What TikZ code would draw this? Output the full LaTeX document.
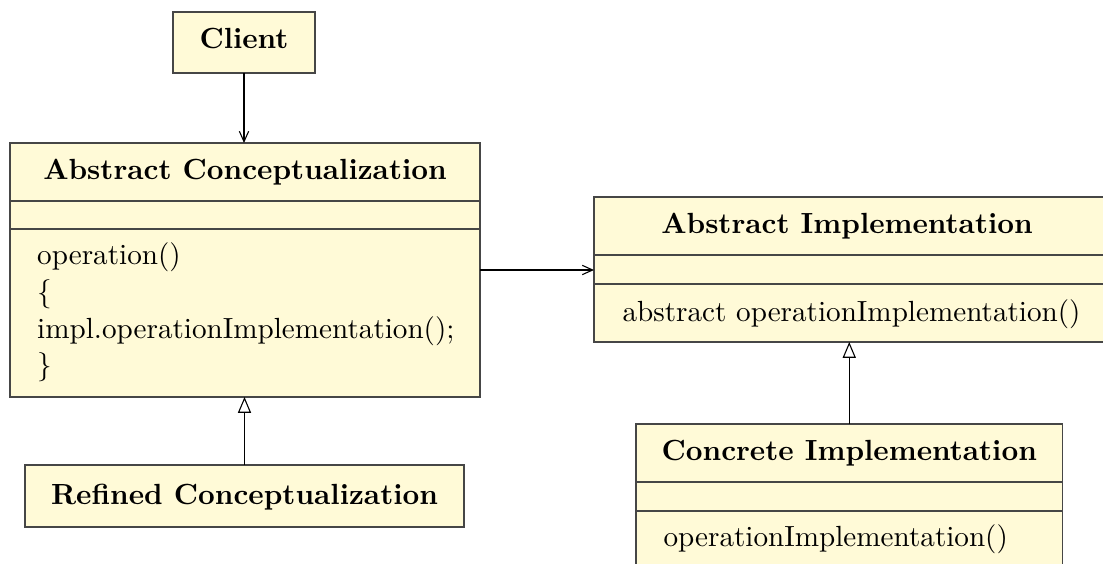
\documentclass[tikz,border=0pt]{standalone}
\usetikzlibrary{arrows.meta}
\definecolor{umlfill}{RGB}{255,250,215}
\definecolor{umlline}{RGB}{70,70,70}
\def\pxu{0.3663pt}
\newcommand\umlsize{\fontsize{10.68}{13}\selectfont}
\begin{document}
\begin{tikzpicture}[x=\pxu, y=-\pxu,
  classbox/.style={draw=umlline, fill=umlfill, line width=0.45pt, rectangle, inner sep=0pt, outer sep=0pt},
  sepline/.style={draw=umlline, line width=0.45pt},
  title/.style={font=\umlsize\bfseries, inner sep=0pt, anchor=base},
  member/.style={font=\umlsize, inner sep=0pt, anchor=base west},
  assoc/.style={draw=black, line width=0.4pt, -{Straight Barb[length=3.8pt,width=3.4pt]}},
  inherit/.style={draw=black, line width=0.4pt, -{Triangle[open,length=5.8pt,width=4.8pt,fill=white]}}]
\useasboundingbox (0,0) rectangle (1103,564);
\clip (0,0) rectangle (1103,564);

% Client
\node[classbox, minimum width={142*\pxu}, minimum height={61*\pxu}] (client) at (244,42.5) {};
\node[title] (clientt) at (244,48.3) {Client};

% Abstract Conceptualization
\node[classbox, minimum width={470*\pxu}, minimum height={254*\pxu}] (ac) at (245,270) {};
\draw[sepline] (ac.west |- 0,201) -- (ac.east |- 0,201);
\draw[sepline] (ac.west |- 0,229) -- (ac.east |- 0,229);
\node[title] (act) at (245,179.3) {Abstract Conceptualization};
\node[member] (acm1) at (36.7,265) {operation()};
\node[member] (acm2) at (36.7,301.7) {\{};
\node[member] (acm3) at (36.7,338.3) {impl.operationImplementation();};
\node[member] (acm4) at (36.7,375) {\}};

% Refined Conceptualization
\node[classbox, minimum width={439*\pxu}, minimum height={62*\pxu}] (rc) at (244.5,496) {};
\node[title] (rct) at (244.5,504) {Refined Conceptualization};

% Abstract Implementation
\node[classbox, minimum width={512*\pxu}, minimum height={145*\pxu}] (ai) at (850,269.5) {};
\draw[sepline] (ai.west |- 0,255) -- (ai.east |- 0,255);
\draw[sepline] (ai.west |- 0,284) -- (ai.east |- 0,284);
\node[title] (ait) at (847,233.3) {Abstract Implementation};
\node[member] (aim1) at (622,321.7) {abstract operationImplementation()};

% Concrete Implementation
\node[classbox, minimum width={426.5*\pxu}, minimum height={176*\pxu}] (ci) at (849.25,512) {};
\draw[sepline] (ci.west |- 0,482) -- (ci.east |- 0,482);
\draw[sepline] (ci.west |- 0,511) -- (ci.east |- 0,511);
\node[title] (cit) at (849.25,460) {Concrete Implementation};
\node[member] (cim1) at (663,546.7) {operationImplementation()};

% Connectors
\draw[assoc] (client.south) -- (client.south |- ac.north);
\draw[assoc] (ac.east) -- (ac.east -| ai.west);
\draw[inherit] (rc.north) -- (rc.north |- ac.south);
\draw[inherit] (ci.north) -- (ci.north |- ai.south);
\end{tikzpicture}
\end{document}
